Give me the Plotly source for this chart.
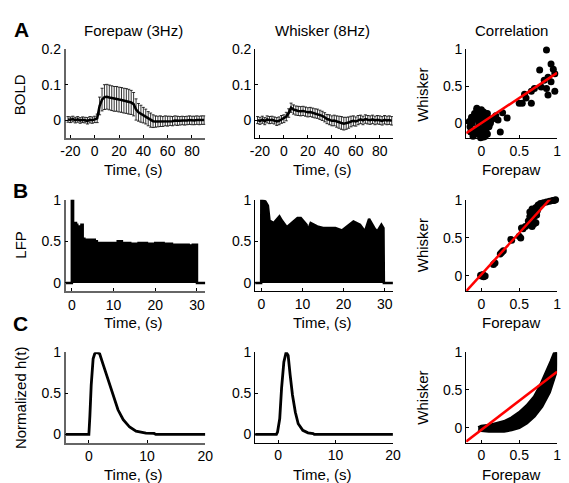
import plotly.graph_objects as go

# ---------------- DATA ----------------
# Row A: BOLD responses (time in s, mean, error)
bold_t = [-22, -20, -18, -16, -14, -12, -10, -8, -6, -4, -2, 0, 2, 4, 6, 8, 10, 12, 14, 16,
          18, 20, 22, 24, 26, 28, 30, 32, 34, 36, 38, 40, 42, 44, 46, 48, 50, 52, 54, 56,
          58, 60, 62, 64, 66, 68, 70, 72, 74, 76, 78, 80, 82, 84, 86, 88, 90]
bold_fore = [0.002, 0.001, 0.003, 0.000, 0.002, -0.001, 0.001, 0.000, -0.002, 0.001, 0.000, 0.002,
             0.005, 0.040, 0.058, 0.065, 0.066, 0.064, 0.062, 0.060, 0.060, 0.058, 0.057, 0.055,
             0.054, 0.052, 0.050, 0.045, 0.030, 0.022, 0.018, 0.014, 0.010, 0.004, 0.000, -0.003,
             -0.004, -0.004, -0.003, -0.004, -0.002, -0.003, -0.002, -0.003, -0.001, -0.002, -0.002,
             -0.001, -0.002, -0.001, 0.000, -0.001, -0.001, 0.000, -0.001, 0.000, 0.000]
bold_fore_err = [0.008, 0.008, 0.008, 0.008, 0.008, 0.008, 0.008, 0.008, 0.009, 0.009, 0.009, 0.009,
                 0.012, 0.025, 0.032, 0.035, 0.035, 0.035, 0.035, 0.035, 0.035, 0.035, 0.035, 0.035,
                 0.035, 0.035, 0.034, 0.033, 0.030, 0.025, 0.024, 0.022, 0.021, 0.020, 0.020, 0.018,
                 0.016, 0.015, 0.015, 0.014, 0.014, 0.014, 0.013, 0.013, 0.013, 0.013, 0.012, 0.012,
                 0.012, 0.012, 0.012, 0.012, 0.012, 0.012, 0.012, 0.012, 0.012]
bold_whisk = [0.000, -0.002, 0.001, -0.003, 0.002, 0.000, 0.001, -0.001, -0.004, -0.002, 0.002, 0.004,
              0.010, 0.020, 0.035, 0.030, 0.027, 0.026, 0.025, 0.026, 0.024, 0.022, 0.023, 0.021,
              0.019, 0.018, 0.015, 0.012, 0.008, 0.003, 0.001, -0.002, -0.001, -0.004, -0.006, -0.008,
              -0.010, -0.009, -0.007, -0.004, -0.002, -0.004, 0.000, 0.002, -0.001, 0.003, 0.001,
              0.000, 0.002, -0.001, 0.001, 0.000, -0.002, 0.001, -0.001, 0.000, -0.002]
bold_whisk_err = [0.010, 0.010, 0.010, 0.010, 0.010, 0.010, 0.010, 0.010, 0.011, 0.011, 0.011, 0.011,
                  0.012, 0.012, 0.013, 0.013, 0.013, 0.013, 0.013, 0.013, 0.013, 0.013, 0.013, 0.013,
                  0.013, 0.013, 0.013, 0.013, 0.013, 0.013, 0.014, 0.014, 0.015, 0.016, 0.017, 0.018,
                  0.018, 0.017, 0.016, 0.015, 0.014, 0.013, 0.013, 0.012, 0.012, 0.012, 0.012, 0.012,
                  0.012, 0.012, 0.012, 0.012, 0.012, 0.012, 0.012, 0.012, 0.012]

corrA_x = [0.86, 0.77, 0.92, 0.95, 0.97, 0.88, 0.83, 0.92, 0.79, 0.86, 0.97, 0.88, 0.70, 0.66,
           0.57, 0.50, 0.54, 0.66, 0.59, 0.34, 0.28, 0.25, 0.17, 0.12, 0.10, 0.03, -0.06,
           -0.15, -0.12, -0.10, -0.08, -0.06, -0.05, -0.04, -0.03, -0.02, -0.01, 0.00, 0.01,
           0.02, 0.03, 0.04, 0.05, 0.06, 0.07, 0.08, 0.09, 0.10, 0.11, -0.13, -0.11, -0.07,
           -0.09, 0.00, 0.02, 0.05, -0.04, 0.12, 0.14, 0.08, -0.16, -0.14, 0.00, -0.06, 0.04,
           -0.02, 0.06, 0.19, 0.22]
corrA_y = [0.99, 0.72, 0.80, 0.73, 0.67, 0.62, 0.58, 0.56, 0.49, 0.47, 0.43, 0.38, 0.47, 0.43,
           0.39, 0.27, 0.27, 0.27, 0.34, 0.07, 0.14, -0.12, 0.07, 0.03, -0.04, -0.19, 0.18,
           -0.05, 0.00, -0.10, 0.05, -0.15, 0.10, -0.05, 0.00, 0.12, -0.20, 0.05, -0.08,
           0.02, 0.15, -0.12, 0.08, -0.02, 0.10, -0.15, 0.03, -0.05, 0.06, 0.08, -0.18, -0.22,
           0.13, -0.15, -0.22, -0.18, 0.16, 0.00, 0.05, 0.13, 0.02, -0.12, 0.18, 0.20, 0.00,
           -0.10, -0.10, 0.10, 0.04]
corrA_fit = [0.68, 0.0]   # slope, intercept

# Row B: LFP envelopes
lfp_fore_t = [-1.5, -0.05, 0.0, 0.25, 0.3, 0.6, 1.0, 1.3, 1.6, 2.0, 2.3, 2.6, 3.0, 4.0, 5.0, 5.5,
              6.0, 8.0, 10.0, 11.0, 12.0, 14.0, 16.0, 18.0, 20.0, 22.0, 24.0, 26.0, 28.0, 29.0,
              29.9, 30.0, 32.0]
lfp_fore = [0, 0, 1.0, 1.0, 0.72, 0.72, 0.70, 0.67, 0.68, 0.63, 0.70, 0.53, 0.52, 0.52, 0.52, 0.50,
            0.48, 0.48, 0.48, 0.50, 0.48, 0.47, 0.48, 0.47, 0.48, 0.47, 0.46, 0.46, 0.45, 0.46,
            0.46, 0, 0]
lfp_whisk_t = [-1.5, -0.05, 0.0, 0.5, 1.0, 1.6, 2.0, 3.0, 4.4, 5.0, 6.2, 8.8, 9.6, 11.0, 11.2,
               12.0, 13.6, 15.0, 18.0, 19.6, 20.4, 22.4, 24.0, 25.2, 26.2, 27.6, 28.2, 29.2,
               29.7, 29.8, 32.0]
lfp_whisk = [0, 0, 1.0, 0.99, 0.98, 0.93, 0.75, 0.72, 0.80, 0.75, 0.67, 0.78, 0.78, 0.70, 0.62,
             0.72, 0.68, 0.66, 0.66, 0.63, 0.66, 0.74, 0.70, 0.62, 0.77, 0.65, 0.62, 0.70,
             0.66, 0, 0]

corrB_x = [0.00, 0.03, 0.05, -0.01, 0.02, 0.16, 0.18, 0.25, 0.29, 0.27, 0.39, 0.40, 0.52, 0.50,
           0.53, 0.58, 0.62, 0.67, 0.55, 0.62, 0.64, 0.66, 0.68, 0.70, 0.72, 0.65, 0.70, 0.73,
           0.67, 0.72, 0.64, 0.69, 0.74, 0.75, 0.78, 0.82, 0.86, 0.90, 0.94, 0.98, 0.96]
corrB_y = [0.00, -0.01, 0.00, 0.01, 0.02, 0.15, 0.17, 0.29, 0.33, 0.31, 0.48, 0.47, 0.50, 0.52,
           0.63, 0.65, 0.67, 0.65, 0.62, 0.72, 0.78, 0.82, 0.75, 0.85, 0.70, 0.70, 0.78, 0.80,
           0.88, 0.90, 0.84, 0.68, 0.86, 0.93, 0.95, 0.96, 0.97, 0.98, 0.99, 1.00, 0.99]
corrB_fit = [1.09, 0.02]

# Row C: normalized HRFs
h_fore_t = [-4, 0.0, 0.17, 0.4, 0.73, 1.0, 1.3, 1.85, 2.5, 3.4, 4.2, 5.0, 5.9, 7.0, 8.1, 9.8,
            11.2, 11.5, 20]
h_fore = [0, 0, 0.22, 0.60, 0.92, 0.98, 1.0, 0.98, 0.84, 0.64, 0.46, 0.30, 0.18, 0.09, 0.04,
          0.016, 0.012, 0.0, 0]
h_whisk_t = [-4, -0.3, -0.1, 0.28, 0.6, 1.0, 1.4, 1.75, 2.1, 2.5, 3.0, 3.5, 4.3, 5.2, 6.1, 6.3, 20]
h_whisk = [0, 0, 0.03, 0.19, 0.56, 0.88, 1.0, 0.96, 0.72, 0.48, 0.27, 0.13, 0.05, 0.02, 0.01,
           0.0, 0]

# band of points (outline) for Correlation C
corrC_x = [-0.04, 0.0, 0.1, 0.2, 0.3, 0.4, 0.5, 0.6, 0.7, 0.78, 0.86, 0.92, 0.96, 0.99,
           1.02, 1.02, 1.0, 0.96, 0.9, 0.8, 0.7, 0.6, 0.5, 0.4, 0.3, 0.2, 0.1, 0.0, -0.04]
corrC_y = [0.0, 0.02, 0.03, 0.05, 0.08, 0.13, 0.2, 0.29, 0.41, 0.56, 0.73, 0.88, 0.98, 1.02,
           0.97, 0.88, 0.78, 0.66, 0.47, 0.28, 0.15, 0.06, 0.0, -0.03, -0.05, -0.05, -0.05,
           -0.04, -0.02]
corrC_fit = [0.77, -0.03]

fit_x = [-0.2, 1.0]

# ---------------- LAYOUT ----------------
W, H = 569, 483
FONT = "Liberation Sans, Arial, Helvetica, sans-serif"
cols = [(62, 205), (256, 397), (472, 565)]
rows = [(42, 132), (195, 288), (350, 442)]

fig = go.Figure()


def ax(r, c):
    n = r * 3 + c + 1
    return ("x" if n == 1 else f"x{n}"), ("y" if n == 1 else f"y{n}")


# Row A
xa, ya = ax(0, 0)
fig.add_trace(go.Scatter(x=bold_t, y=bold_fore, mode="lines", xaxis=xa, yaxis=ya,
                         line=dict(color="black", width=2.5),
                         error_y=dict(type="data", array=bold_fore_err, color="black",
                                      thickness=0.8, width=1.5)))
xa, ya = ax(0, 1)
fig.add_trace(go.Scatter(x=bold_t, y=bold_whisk, mode="lines", xaxis=xa, yaxis=ya,
                         line=dict(color="black", width=2.5),
                         error_y=dict(type="data", array=bold_whisk_err, color="black",
                                      thickness=0.8, width=1.5)))
xa, ya = ax(0, 2)
fig.add_trace(go.Scatter(x=corrA_x, y=corrA_y, mode="markers", xaxis=xa, yaxis=ya,
                         cliponaxis=False, marker=dict(color="black", size=7)))
fig.add_trace(go.Scatter(x=fit_x, y=[corrA_fit[0] * v + corrA_fit[1] for v in fit_x],
                         mode="lines", xaxis=xa, yaxis=ya, line=dict(color="red", width=2.5)))

# Row B
xa, ya = ax(1, 0)
fig.add_trace(go.Scatter(x=lfp_fore_t, y=lfp_fore, mode="lines", fill="tozeroy",
                         fillcolor="black", xaxis=xa, yaxis=ya, line_shape="hv",
                         line=dict(color="black", width=2.5)))
xa, ya = ax(1, 1)
fig.add_trace(go.Scatter(x=lfp_whisk_t, y=lfp_whisk, mode="lines", fill="tozeroy",
                         fillcolor="black", xaxis=xa, yaxis=ya,
                         line=dict(color="black", width=2.5)))
xa, ya = ax(1, 2)
fig.add_trace(go.Scatter(x=corrB_x, y=corrB_y, mode="markers", xaxis=xa, yaxis=ya,
                         cliponaxis=False, marker=dict(color="black", size=7)))
fig.add_trace(go.Scatter(x=fit_x, y=[corrB_fit[0] * v + corrB_fit[1] for v in fit_x],
                         mode="lines", xaxis=xa, yaxis=ya, line=dict(color="red", width=2.5)))

# Row C
xa, ya = ax(2, 0)
fig.add_trace(go.Scatter(x=h_fore_t, y=h_fore, mode="lines", xaxis=xa, yaxis=ya,
                         line=dict(color="black", width=2.8)))
xa, ya = ax(2, 1)
fig.add_trace(go.Scatter(x=h_whisk_t, y=h_whisk, mode="lines", xaxis=xa, yaxis=ya,
                         line=dict(color="black", width=2.8)))
xa, ya = ax(2, 2)
fig.add_trace(go.Scatter(x=corrC_x, y=corrC_y, mode="lines", fill="toself", fillcolor="black",
                         xaxis=xa, yaxis=ya, line=dict(color="black", width=3)))
fig.add_trace(go.Scatter(x=fit_x, y=[corrC_fit[0] * v + corrC_fit[1] for v in fit_x],
                         mode="lines", xaxis=xa, yaxis=ya, line=dict(color="red", width=2.5)))

# axes specs: (xrange, xticks, xticktext, yrange, yticks, yticktext)
time_ticks_A = [-20, 0, 20, 40, 60, 80]
specs = {
    (0, 0): ([-24, 91], time_ticks_A, None, [-0.05, 0.2], [0, 0.1, 0.2], ["0", "0.1", "0.2"]),
    (0, 1): ([-24, 91], time_ticks_A, None, [-0.05, 0.2], [0, 0.1, 0.2], ["0", "0.1", "0.2"]),
    (1, 0): ([-1.5, 32], [0, 10, 20, 30], None, [-0.1, 1], [0, 0.5, 1], ["0", "0.5", "1"]),
    (1, 1): ([-1.5, 32], [0, 10, 20, 30], None, [-0.1, 1], [0, 0.5, 1], ["0", "0.5", "1"]),
    (2, 0): ([-4, 20], [0, 10, 20], None, [-0.1, 1], [0, 0.5, 1], ["0", "0.5", "1"]),
    (2, 1): ([-4, 20], [0, 10, 20], None, [-0.1, 1], [0, 0.5, 1], ["0", "0.5", "1"]),
}
for r in range(3):
    specs[(r, 2)] = ([-0.2, 1.0], [0, 0.5, 1], ["0", "0.5", "1"], [-0.2, 1.0], [0, 0.5, 1],
                     ["0", "0.5", "1"])

layout = dict(width=W, height=H, margin=dict(l=0, r=0, t=0, b=0),
              paper_bgcolor="white", plot_bgcolor="white", showlegend=False,
              font=dict(family=FONT, size=14, color="black"))

for (r, c), (xr, xt, xtt, yr, yt, ytt) in specs.items():
    n = r * 3 + c + 1
    x0, x1 = cols[c]
    y0, y1 = rows[r]
    lc = "#666666" if c == 0 else "black"
    lw = 1.6 if c == 0 else 1
    common = dict(showline=True, linecolor=lc, linewidth=lw, ticks="inside", ticklen=3,
                  tickwidth=1, tickcolor="black", showgrid=False, zeroline=False,
                  tickfont=dict(family=FONT, size=14, color="black"), fixedrange=True)
    xk = "xaxis" if n == 1 else f"xaxis{n}"
    yk = "yaxis" if n == 1 else f"yaxis{n}"
    layout[xk] = dict(domain=[x0 / W, x1 / W], anchor=("y" if n == 1 else f"y{n}"),
                      range=xr, tickvals=xt,
                      ticktext=xtt if xtt else [str(v) for v in xt], **common)
    layout[yk] = dict(domain=[1 - y1 / H, 1 - y0 / H], anchor=("x" if n == 1 else f"x{n}"),
                      range=yr, tickvals=yt, ticktext=ytt, **common)

fig.update_layout(**layout)


def note(text, xp, yp, size=15, angle=0, bold=False):
    fig.add_annotation(text=f"<b>{text}</b>" if bold else text, x=xp / W, y=1 - yp / H,
                       xref="paper", yref="paper", showarrow=False, textangle=angle,
                       xanchor="center", yanchor="middle",
                       font=dict(family=FONT, size=size, color="black"))


# panel titles
note("Forepaw (3Hz)", 132, 23)
note("Whisker (8Hz)", 325, 23)
note("Correlation", 518, 23)
# letters
note("A", 17, 22, size=21, bold=True)
note("B", 16, 186, size=21, bold=True)
note("C", 16, 321, size=21, bold=True)
# y titles
note("BOLD", 15, 88, angle=-90)
note("LFP", 15, 241, angle=-90)
note("Normalized h(t)", 16, 396, angle=-90)
for yc in (88, 241, 396):
    note("Whisker", 427, yc, angle=-90)
# x titles
for yc in (164, 320, 474):
    note("Time, (s)", 131, yc)
    note("Time, (s)", 325, yc)
    note("Forepaw", 518, yc)

fig.write_html(
    "out.html",
    config={"displayModeBar": False},
    post_script="document.body.style.margin='0';document.body.style.padding='0';"
                "document.body.style.overflow='hidden';"
                "document.documentElement.style.overflow='hidden';",
)
